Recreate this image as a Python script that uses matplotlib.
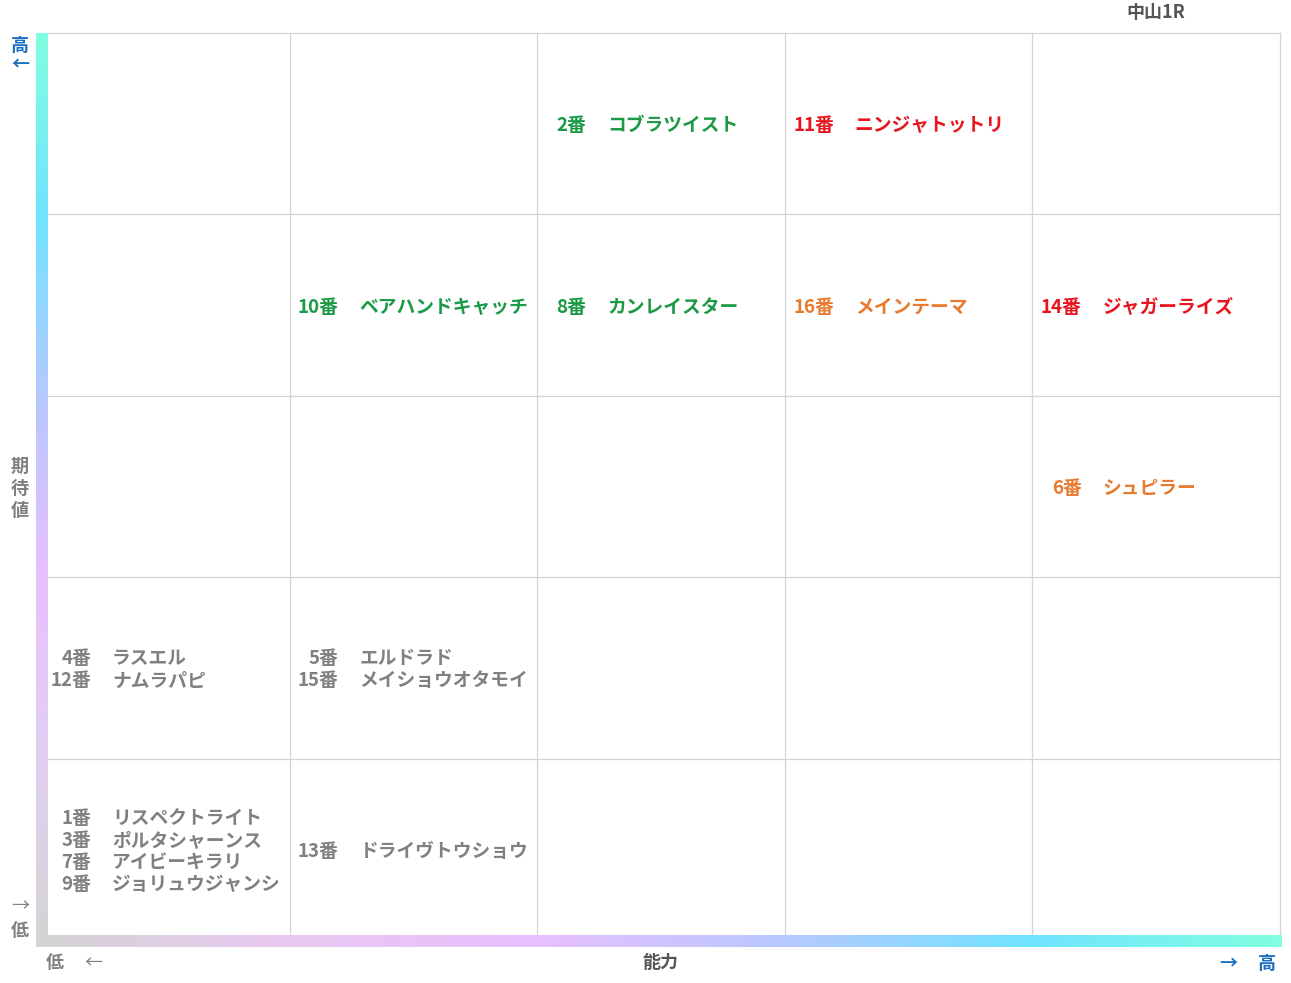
import matplotlib.pyplot as plt
import numpy as np
from matplotlib.colors import LinearSegmentedColormap

plt.rcParams['font.family'] = ['Noto Sans CJK JP', 'DejaVu Sans']

# horse data: number, name, ability column (0=low), expectation row (0=low), colour group
numbers = ['1番', '3番', '7番', '9番', '13番', '4番', '12番', '5番', '15番',
           '6番', '10番', '8番', '16番', '14番', '2番', '11番']
names = ['リスペクトライト', 'ポルタシャーンス', 'アイビーキラリ', 'ジョリュウジャンシ',
         'ドライヴトウショウ', 'ラスエル', 'ナムラパピ', 'エルドラド', 'メイショウオタモイ',
         'シュピラー', 'ベアハンドキャッチ', 'カンレイスター', 'メインテーマ',
         'ジャガーライズ', 'コブラツイスト', 'ニンジャトットリ']
cols = [0, 0, 0, 0, 1, 0, 0, 1, 1, 4, 1, 2, 3, 4, 2, 3]
rows = [0, 0, 0, 0, 0, 1, 1, 1, 1, 2, 3, 3, 3, 3, 4, 4]
groups = ['g', 'g', 'g', 'g', 'g', 'g', 'g', 'g', 'g',
          'o', 'G', 'G', 'o', 'r', 'G', 'r']
colors = {'g': '#808080', 'G': '#1a9a45', 'o': '#e87a2e', 'r': '#e8141e'}

fig = plt.figure(figsize=(12.91, 9.83), dpi=100)
ax = fig.add_axes([0, 0, 1, 1])
ax.set_xlim(0, 1291)
ax.set_ylim(983, 0)
ax.axis('off')

x0, x1, y0, y1 = 42, 1280, 33, 940
cw = (x1 - x0) / 5
rh = (y1 - y0) / 5
for i in range(6):
    ax.plot([x0 + i * cw] * 2, [y0, y1], color='#d4d4d4', lw=0.9)
    ax.plot([x0, x1], [y0 + i * rh] * 2, color='#d4d4d4', lw=0.9)

# gradient axis bars
vcm = LinearSegmentedColormap.from_list('v', ['#80ffe0', '#70e4ff', '#b8c8ff', '#e8c0ff', '#e0d0f0', '#d4d4d4'])
ax.imshow(np.linspace(0, 1, 256).reshape(-1, 1), cmap=vcm, aspect='auto',
          extent=(36, 48, 946, 33), zorder=3)
hcm = LinearSegmentedColormap.from_list('h', ['#d4d4d4', '#e8c8f0', '#e8c0ff', '#b8c8ff', '#70e4ff', '#80ffe0'])
ax.imshow(np.linspace(0, 1, 256).reshape(1, -1), cmap=hcm, aspect='auto',
          extent=(36, 1282, 947, 935), zorder=3)

# horse labels
fs = 13.5
for c in range(5):
    for r in range(5):
        idx = [k for k in range(len(names)) if cols[k] == c and rows[k] == r]
        if not idx:
            continue
        cy = y1 - (r + 0.5) * rh + 2
        n = len(idx)
        for j, k in enumerate(idx):
            yy = cy + (j - (n - 1) / 2) * 22
            col = colors[groups[k]]
            ax.text(x0 + c * cw + 49, yy, numbers[k], ha='right', va='center',
                    fontsize=fs, fontweight='bold', color=col)
            ax.text(x0 + c * cw + 70, yy, names[k], ha='left', va='center',
                    fontsize=fs, fontweight='bold', color=col)

blue = '#1a6ec0'
grey = '#808080'
ax.text(1156, 13, '中山1R', ha='center', va='center', fontsize=13, fontweight='bold', color='#555555')
ax.text(20, 45, '高', ha='center', va='center', fontsize=13, fontweight='bold', color=blue)
ax.text(20, 64, '←', ha='center', va='center', fontsize=13, fontweight='bold', color=blue)
ax.text(20, 488, '期\n待\n値', ha='center', va='center', fontsize=13, fontweight='bold',
        color=grey, linespacing=1.2)
ax.text(20, 906, '→', ha='center', va='center', fontsize=13, color=grey)
ax.text(20, 930, '低', ha='center', va='center', fontsize=13, fontweight='bold', color=grey)
ax.text(55, 963, '低', ha='center', va='center', fontsize=13, fontweight='bold', color=grey)
ax.text(93, 963, '←', ha='center', va='center', fontsize=13, color=grey)
ax.text(660, 963, '能力', ha='center', va='center', fontsize=13, fontweight='bold', color='#555555')
ax.text(1228, 963, '→', ha='center', va='center', fontsize=13, fontweight='bold', color=blue)
ax.text(1267, 963, '高', ha='center', va='center', fontsize=13, fontweight='bold', color=blue)

fig.savefig('out.png', dpi=100, facecolor='white')
